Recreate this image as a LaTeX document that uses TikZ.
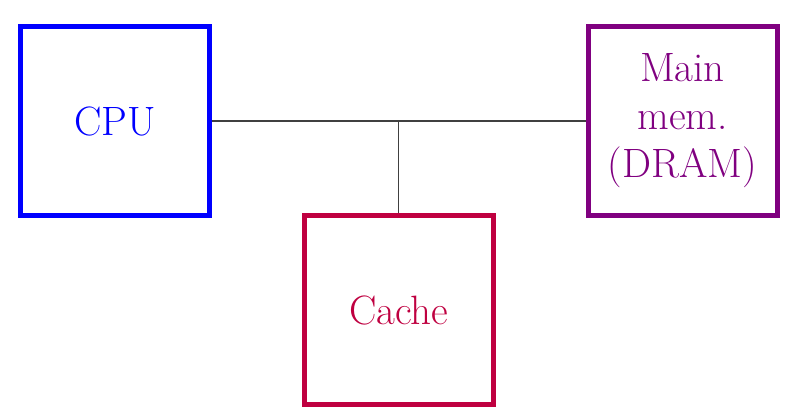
\documentclass[tikz,border=0pt]{standalone}
\usepackage{xcolor}
\usepackage{tikz}
\usetikzlibrary{positioning}

\begin{document}
\begin{tikzpicture}[
  x=0.5pt, y=-0.5pt,
  box/.style={draw, line width=2.5pt, minimum size=94.5pt, align=center,
    font=\fontsize{20.5}{24}\selectfont},
  wire/.style={black!75, line width=0.6pt}
]
\useasboundingbox (0,0) rectangle (799,418);

% Nodes
\node[box, draw=blue, text=blue] (cpu) at (115.3,121) {CPU};
\node[box, draw=violet, text=violet] (mem) at (682.5,121) {Main\\mem.\\(DRAM)};
\node[box, draw=purple, text=purple] (cache) at (398.7,310) {Cache};

% Bus
\draw[wire] (cpu) -- (mem);
\draw[wire] (cache) -- (cache |- cpu);
\end{tikzpicture}
\end{document}
